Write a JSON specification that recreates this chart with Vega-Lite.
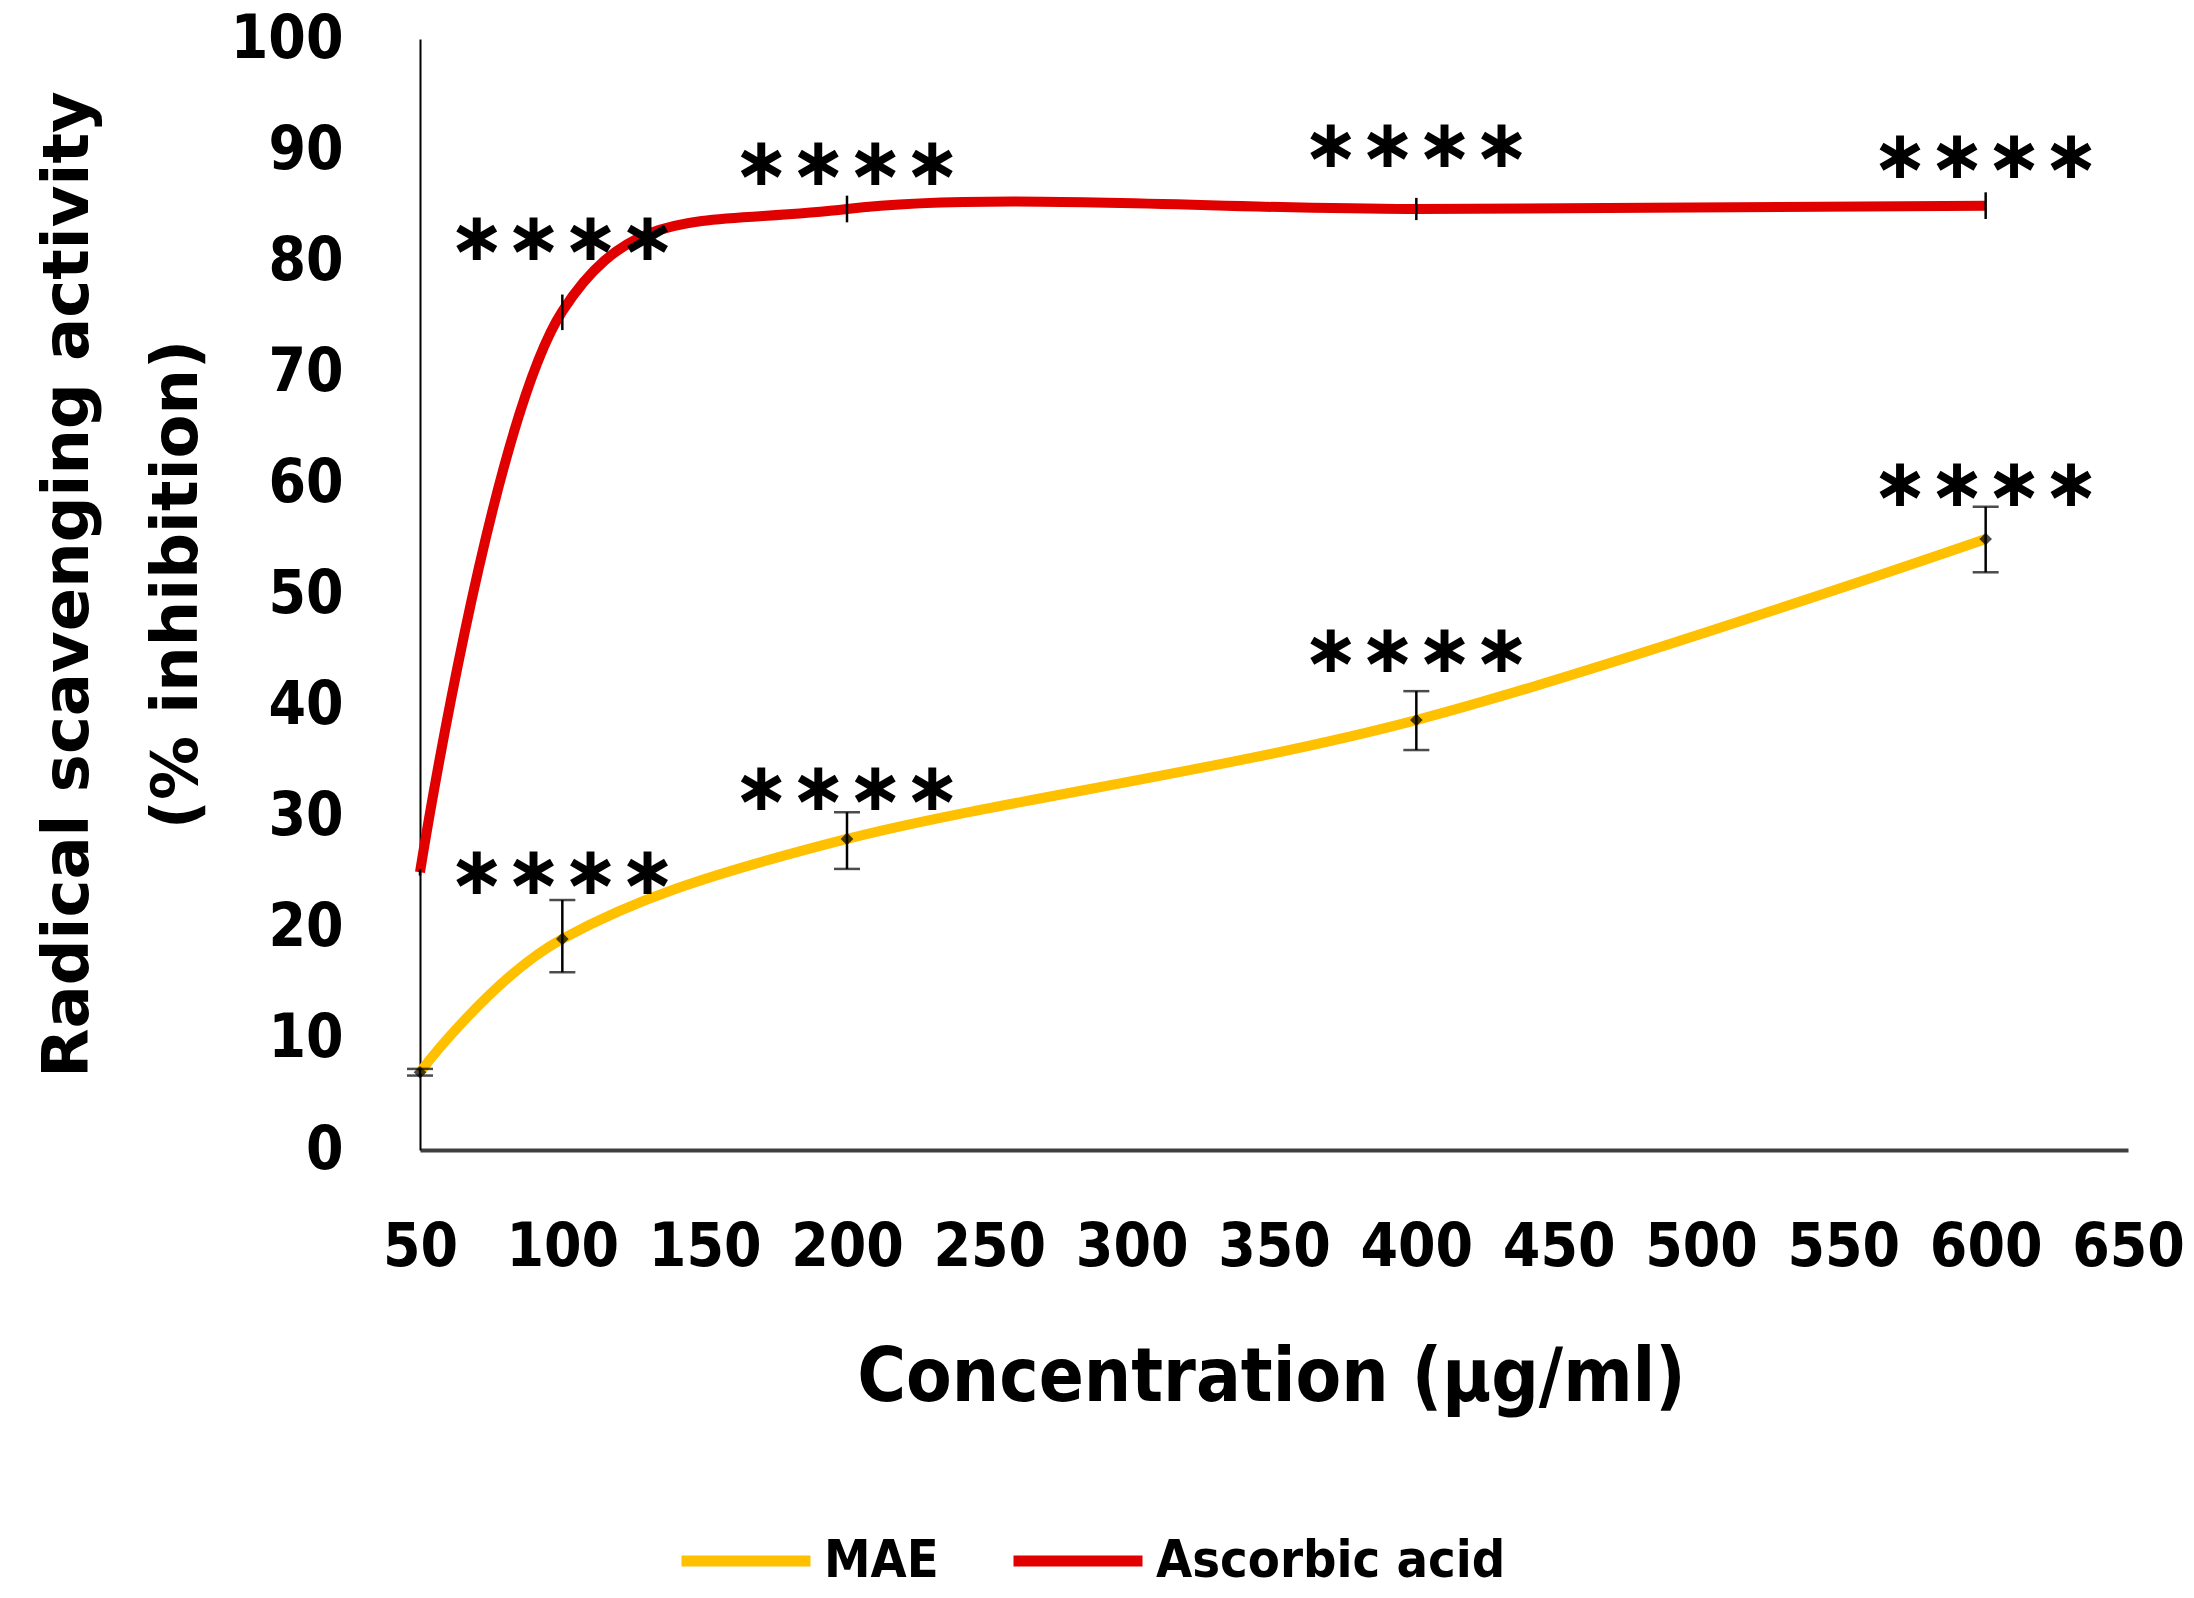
{
  "$schema": "https://vega.github.io/schema/vega-lite/v6.json",
  "width": 1708,
  "height": 1111,
  "autosize": {"type": "none"},
  "padding": {"left": 420, "top": 39, "right": 66, "bottom": 448},
  "background": "white",
  "config": {"view": {"stroke": null}, "font": "DejaVu Sans"},
  "data": {
    "values": [
      {"series": "MAE", "conc": 50, "value": 7.0, "lo": 6.7, "hi": 7.3, "star": null},
      {"series": "MAE", "conc": 100, "value": 19.0, "lo": 16.0, "hi": 22.5, "star": 24.8},
      {"series": "MAE", "conc": 200, "value": 28.0, "lo": 25.3, "hi": 30.4, "star": 32.4},
      {"series": "MAE", "conc": 400, "value": 38.7, "lo": 36.0, "hi": 41.3, "star": 44.8},
      {"series": "MAE", "conc": 600, "value": 55.0, "lo": 52.0, "hi": 57.9, "star": 59.8},
      {"series": "Ascorbic acid", "conc": 50, "value": 25.0, "lo": 24.7, "hi": 25.3, "star": null},
      {"series": "Ascorbic acid", "conc": 100, "value": 75.5, "lo": 73.8, "hi": 77.0, "star": 81.9},
      {"series": "Ascorbic acid", "conc": 200, "value": 84.7, "lo": 83.5, "hi": 85.9, "star": 88.7},
      {"series": "Ascorbic acid", "conc": 400, "value": 84.7, "lo": 83.7, "hi": 85.7, "star": 90.3},
      {"series": "Ascorbic acid", "conc": 600, "value": 85.0, "lo": 83.8, "hi": 86.2, "star": 89.3}
    ]
  },
  "layer": [
    {
      "mark": {"type": "line", "strokeWidth": 10, "interpolate": "cardinal", "tension": 0},
      "encoding": {
        "x": {
          "field": "conc", "type": "quantitative",
          "scale": {"domain": [50, 650], "nice": false, "zero": false},
          "axis": {
            "values": [50, 100, 150, 200, 250, 300, 350, 400, 450, 500, 550, 600, 650],
            "domainColor": "#404040", "domainWidth": 4, "ticks": false, "grid": false,
            "labelFont": "DejaVu Sans Condensed, Liberation Sans Narrow, DejaVu Sans",
            "labelFontSize": 60, "labelFontWeight": "bold", "labelColor": "black",
            "labelPadding": 68, "labelFlush": false,
            "title": "Concentration (µg/ml)",
            "titleFont": "DejaVu Sans Condensed, Liberation Sans Narrow, DejaVu Sans",
            "titleFontSize": 74, "titleFontWeight": "bold", "titleColor": "black",
            "titleX": 851, "titleY": 250, "titleBaseline": "alphabetic", "titleAlign": "center"
          }
        },
        "y": {
          "field": "value", "type": "quantitative",
          "scale": {"domain": [0, 100], "nice": false},
          "axis": {
            "values": [0, 10, 20, 30, 40, 50, 60, 70, 80, 90, 100],
            "domainColor": "black", "domainWidth": 2, "ticks": false, "grid": false,
            "labelFont": "DejaVu Sans Condensed, Liberation Sans Narrow, DejaVu Sans",
            "labelFontSize": 60, "labelFontWeight": "bold", "labelColor": "black",
            "labelPadding": 77, "labelFlush": false,
            "title": ["Radical scavenging activity", "(% inhibition)"],
            "titleFont": "DejaVu Sans", "titleFontSize": 64, "titleFontWeight": "bold",
            "titleColor": "black", "titleLineHeight": 109,
            "titleX": -333, "titleY": 545, "titleAngle": 270,
            "titleBaseline": "alphabetic", "titleAlign": "center"
          }
        },
        "color": {
          "field": "series", "type": "nominal",
          "scale": {"domain": ["MAE", "Ascorbic acid"], "range": ["#FFC000", "#E10000"]},
          "legend": {
            "title": null, "orient": "none", "direction": "horizontal",
            "legendX": 256, "legendY": 1452,
            "symbolType": "stroke", "symbolSize": 16641, "symbolStrokeWidth": 11,
            "labelFont": "DejaVu Sans Condensed, Liberation Sans Narrow, DejaVu Sans",
            "labelFontSize": 52, "labelFontWeight": "bold", "labelColor": "black",
            "labelOffset": 8, "columnPadding": 52, "labelLimit": 600
          }
        },
        "order": {"field": "conc", "type": "quantitative"}
      }
    },
    {
      "transform": [{"filter": "datum.series === 'MAE'"}],
      "mark": {"type": "point", "shape": "diamond", "filled": true, "color": "black", "size": 160},
      "encoding": {
        "x": {"field": "conc", "type": "quantitative"},
        "y": {"field": "value", "type": "quantitative"}
      }
    },
    {
      "mark": {"type": "rule", "color": "black", "strokeWidth": 2.5},
      "encoding": {
        "x": {"field": "conc", "type": "quantitative"},
        "y": {"field": "lo", "type": "quantitative"},
        "y2": {"field": "hi"}
      }
    },
    {
      "transform": [{"filter": "datum.series === 'MAE'"}],
      "mark": {"type": "tick", "orient": "horizontal", "color": "black", "size": 26, "thickness": 2.5},
      "encoding": {
        "x": {"field": "conc", "type": "quantitative"},
        "y": {"field": "lo", "type": "quantitative"}
      }
    },
    {
      "transform": [{"filter": "datum.series === 'MAE'"}],
      "mark": {"type": "tick", "orient": "horizontal", "color": "black", "size": 26, "thickness": 2.5},
      "encoding": {
        "x": {"field": "conc", "type": "quantitative"},
        "y": {"field": "hi", "type": "quantitative"}
      }
    },
    {
      "transform": [{"filter": "datum.star != null"}],
      "mark": {"type": "text", "text": "∗∗∗∗", "font": "DejaVu Sans", "fontSize": 68, "fontWeight": "bold", "color": "black", "align": "center", "baseline": "middle"},
      "encoding": {
        "x": {"field": "conc", "type": "quantitative"},
        "y": {"field": "star", "type": "quantitative"}
      }
    }
  ]
}
